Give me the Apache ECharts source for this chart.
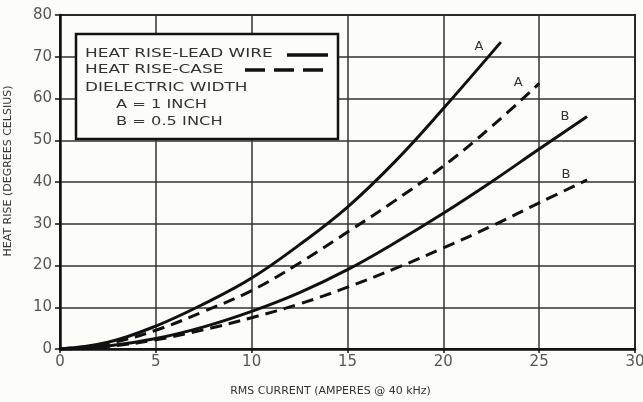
<!DOCTYPE html>
<html><head><meta charset="utf-8">
<script src="https://cdn.jsdelivr.net/npm/echarts@6/dist/echarts.min.js"></script>
<style>html,body{margin:0;padding:0;background:#fcfcf8;}#c{width:643px;height:402px;}</style>
</head><body><div id="c"></div>
<script>
// Data (x = RMS current in A, y = heat rise in °C)
const leadWireA = [[0,0],[2.5,1.6],[5,5.5],[7.5,10.8],[10,17],[12.5,25],[15,34],[17.5,45],[20,57.6],[23,73.5]];
const caseA     = [[0,0],[2.5,1.3],[5,4.5],[7.5,9],[10,14],[12.5,20.6],[15,28],[17.5,35.6],[20,43.8],[22.5,53.2],[25,63.6]];
const leadWireB = [[0,0],[2.5,0.7],[5,2.5],[7.5,5.3],[10,9],[12.5,13.5],[15,19],[17.5,25.5],[20,32.5],[22.5,40],[25,47.9],[27.5,55.7]];
const caseB     = [[0,0],[2.5,0.6],[5,2.2],[7.5,4.6],[10,7.5],[12.5,10.8],[15,14.8],[17.5,19.3],[20,24.2],[22.5,29.4],[25,35],[27.5,40.5]];
const curveLabels = ['A','A','B','B'];
const legendLines = ['HEAT RISE-LEAD WIRE','HEAT RISE-CASE','DIELECTRIC WIDTH','A = 1 INCH','B = 0.5 INCH'];
const xTitle = 'RMS CURRENT (AMPERES @ 40 kHz)';
const yTitle = 'HEAT RISE (DEGREES CELSIUS)';

const font = 'DejaVu Sans';
const ink = '#111';

function mk(data, dashed, label, off) {
  const last = data[data.length-1];
  return {
    type: 'line', data: data, smooth: 0.4, symbol: 'none',
    lineStyle: {color: ink, width: 3, type: dashed ? [12,7] : 'solid'},
    markPoint: {
      symbol: 'circle', symbolSize: 0, silent: true,
      data: [{coord: last, label: {show: true, formatter: label, offset: off,
        color: '#333', fontSize: 13, fontFamily: font}}]
    }
  };
}

function legendText(i, left, top, size) {
  return {type: 'text', x: left, y: top, scaleX: 1.3, z: 101,
    style: {text: legendLines[i], font: size + 'px "DejaVu Sans"', fill: '#333'}};
}

const chart = echarts.init(document.getElementById('c'));
chart.setOption({
  backgroundColor: '#fcfcf8',
  animation: false,
  grid: {left: 60, right: 8, top: 15, bottom: 53, show: true, borderColor: ink, borderWidth: 2,
         containLabel: false, outerBoundsMode: 'none'},
  xAxis: {
    type: 'value', min: 0, max: 30, interval: 5,
    name: xTitle, nameLocation: 'middle', nameGap: 37,
    nameTextStyle: {fontSize: 11, color: '#333', fontFamily: font, padding: [0, 34, 0, 0]},
    axisLine: {lineStyle: {color: ink, width: 2.5}},
    axisTick: {show: true, length: 4, lineStyle: {color: ink, width: 1.5}},
    axisLabel: {fontSize: 15, color: '#555', fontFamily: font, margin: 6},
    splitLine: {lineStyle: {color: '#333', width: 1.5}}
  },
  yAxis: {
    type: 'value', min: 0, max: 80, interval: 10,
    name: yTitle, nameLocation: 'middle', nameGap: 46, nameRotate: 90,
    nameTextStyle: {fontSize: 11, color: '#333', fontFamily: font, padding: [0, 0, 0, 22]},
    axisLine: {lineStyle: {color: ink, width: 2.5}},
    axisTick: {show: true, length: 5, lineStyle: {color: ink, width: 1.5}},
    axisLabel: {fontSize: 15, color: '#555', fontFamily: font, margin: 8},
    splitLine: {lineStyle: {color: '#333', width: 1.5}}
  },
  series: [
    mk(leadWireA, false, curveLabels[0], [-22, 4]),
    mk(caseA, true, curveLabels[1], [-21, -1]),
    mk(leadWireB, false, curveLabels[2], [-22, 0]),
    mk(caseB, true, curveLabels[3], [-21, -5])
  ],
  graphic: [
    {type: 'rect', shape: {x: 76, y: 34, width: 262, height: 105},
     style: {fill: '#fcfcf8', stroke: ink, lineWidth: 2.5}, z: 100},
    legendText(0, 85, 47, 13),
    legendText(1, 85, 63, 13),
    legendText(2, 85, 81, 13),
    legendText(3, 116, 98, 12.5),
    legendText(4, 116, 115, 12.5),
    {type: 'line', z: 101, shape: {x1: 287, y1: 55, x2: 328, y2: 55}, style: {stroke: ink, lineWidth: 3.5}},
    {type: 'line', z: 101, shape: {x1: 245, y1: 70, x2: 323, y2: 70}, style: {stroke: ink, lineWidth: 3.5, lineDash: [20, 9]}}
  ]
});
</script></body></html>
